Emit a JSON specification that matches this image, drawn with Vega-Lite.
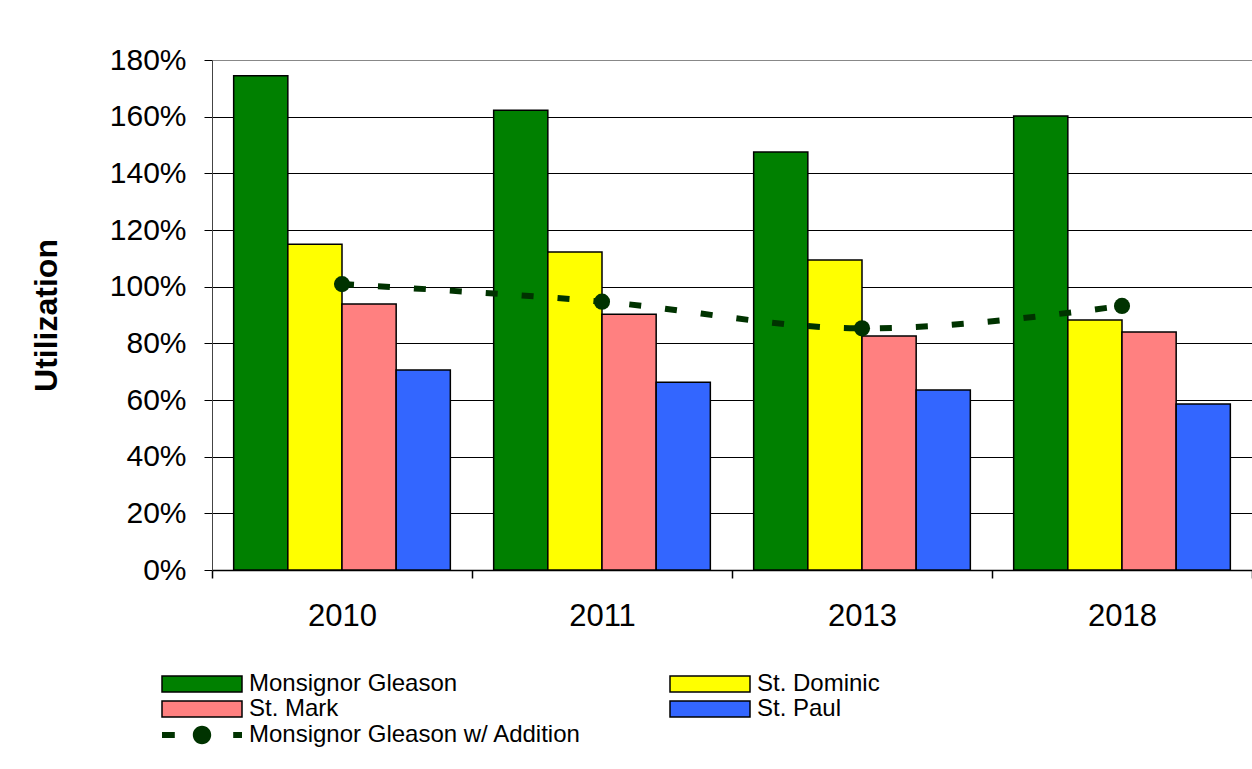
{
  "$schema": "https://vega.github.io/schema/vega-lite/v6.json",
  "width": 1040,
  "height": 510,
  "autosize": {"type": "none"},
  "padding": {"left": 212, "top": 60, "right": 0, "bottom": 199},
  "background": "white",
  "config": {
    "font": "Liberation Sans",
    "view": {"stroke": null},
    "axis": {"labelColor": "black", "titleColor": "black", "tickColor": "black", "domainColor": "black"}
  },
  "datasets": {
    "bars": [
      {"year": "2010", "school": "Monsignor Gleason", "value": 1.744},
      {"year": "2010", "school": "St. Dominic", "value": 1.150},
      {"year": "2010", "school": "St. Mark", "value": 0.939},
      {"year": "2010", "school": "St. Paul", "value": 0.706},
      {"year": "2011", "school": "Monsignor Gleason", "value": 1.623},
      {"year": "2011", "school": "St. Dominic", "value": 1.122},
      {"year": "2011", "school": "St. Mark", "value": 0.903},
      {"year": "2011", "school": "St. Paul", "value": 0.663},
      {"year": "2013", "school": "Monsignor Gleason", "value": 1.475},
      {"year": "2013", "school": "St. Dominic", "value": 1.094},
      {"year": "2013", "school": "St. Mark", "value": 0.826},
      {"year": "2013", "school": "St. Paul", "value": 0.635},
      {"year": "2018", "school": "Monsignor Gleason", "value": 1.602},
      {"year": "2018", "school": "St. Dominic", "value": 0.882},
      {"year": "2018", "school": "St. Mark", "value": 0.840},
      {"year": "2018", "school": "St. Paul", "value": 0.586}
    ],
    "line": [
      {"year": "2010", "school": "Monsignor Gleason  w/ Addition", "value": 1.009},
      {"year": "2011", "school": "Monsignor Gleason  w/ Addition", "value": 0.947},
      {"year": "2013", "school": "Monsignor Gleason  w/ Addition", "value": 0.853},
      {"year": "2018", "school": "Monsignor Gleason  w/ Addition", "value": 0.932}
    ]
  },
  "resolve": {"scale": {"color": "independent"}, "legend": {"color": "independent"}},
  "layer": [
    {
      "data": {"name": "bars"},
      "mark": {"type": "bar", "stroke": "black", "strokeWidth": 1.5},
      "encoding": {
        "x": {
          "field": "year", "type": "nominal",
          "scale": {"paddingInner": 0, "paddingOuter": 0},
          "axis": {
            "title": null, "labelAngle": 0, "labelFontSize": 31, "labelPadding": 23,
            "tickBand": "extent", "tickSize": 8, "tickWidth": 1.5, "domainWidth": 1.5
          }
        },
        "xOffset": {
          "field": "school", "type": "nominal",
          "sort": ["Monsignor Gleason", "St. Dominic", "St. Mark", "St. Paul"],
          "scale": {"paddingInner": 0, "paddingOuter": 0.4}
        },
        "y": {
          "field": "value", "type": "quantitative",
          "scale": {"domain": [0, 1.8], "nice": false},
          "axis": {
            "title": "Utilization", "titleFontSize": 32, "titleFontWeight": "bold", "titlePadding": 46,
            "values": [0, 0.2, 0.4, 0.6, 0.8, 1.0, 1.2, 1.4, 1.6, 1.8],
            "format": ".0%", "labelFontSize": 30, "labelPadding": 18, "tickSize": 8,
            "domainColor": "#444444", "grid": true, "gridWidth": 1,
            "gridColor": {"condition": {"test": "datum.value >= 1.79", "value": "#888888"}, "value": "black"}
          }
        },
        "color": {
          "field": "school", "type": "nominal",
          "scale": {
            "domain": ["Monsignor Gleason", "St. Dominic", "St. Mark", "St. Paul"],
            "range": ["#008000", "#FFFF00", "#FF8080", "#3366FF"]
          },
          "legend": {
            "orient": "none", "legendX": -54, "legendY": 612, "direction": "horizontal", "columns": 2, "columnPadding": 208, "rowPadding": 1,
            "title": null, "padding": 0, "labelFontSize": 24, "labelColor": "black", "labelOffset": 67, "labelLimit": 600,
            "symbolSize": 256, "symbolStrokeWidth": 1.5, "symbolStrokeColor": "black", "symbolType": "M-1,-1H9V1H-1Z"
          }
        }
      }
    },
    {
      "data": {"name": "line"},
      "mark": {"type": "line", "color": "#003300", "strokeDash": [12, 24], "strokeWidth": 6, "interpolate": "monotone"},
      "encoding": {
        "x": {"field": "year", "type": "nominal"},
        "y": {"field": "value", "type": "quantitative"}
      }
    },
    {
      "data": {"name": "line"},
      "mark": {"type": "point", "filled": true, "size": 260, "opacity": 1},
      "encoding": {
        "x": {"field": "year", "type": "nominal"},
        "y": {"field": "value", "type": "quantitative"},
        "color": {
          "field": "school", "type": "nominal",
          "scale": {"domain": ["Monsignor Gleason  w/ Addition"], "range": ["#003300"]},
          "legend": {
            "orient": "none", "legendX": -54, "legendY": 663, "padding": 0, "title": null,
            "labelFontSize": 24, "labelColor": "black", "labelOffset": 67, "labelLimit": 600,
            "symbolSize": 256, "symbolStrokeWidth": 0, "symbolOpacity": 1,
            "symbolType": "M-1,-0.375H0.6V0.375H-1Z M7.9,-0.375H9V0.375H7.9Z M2.85,0A1.15,1.15 0 1 0 5.15,0A1.15,1.15 0 1 0 2.85,0Z"
          }
        }
      }
    }
  ]
}
